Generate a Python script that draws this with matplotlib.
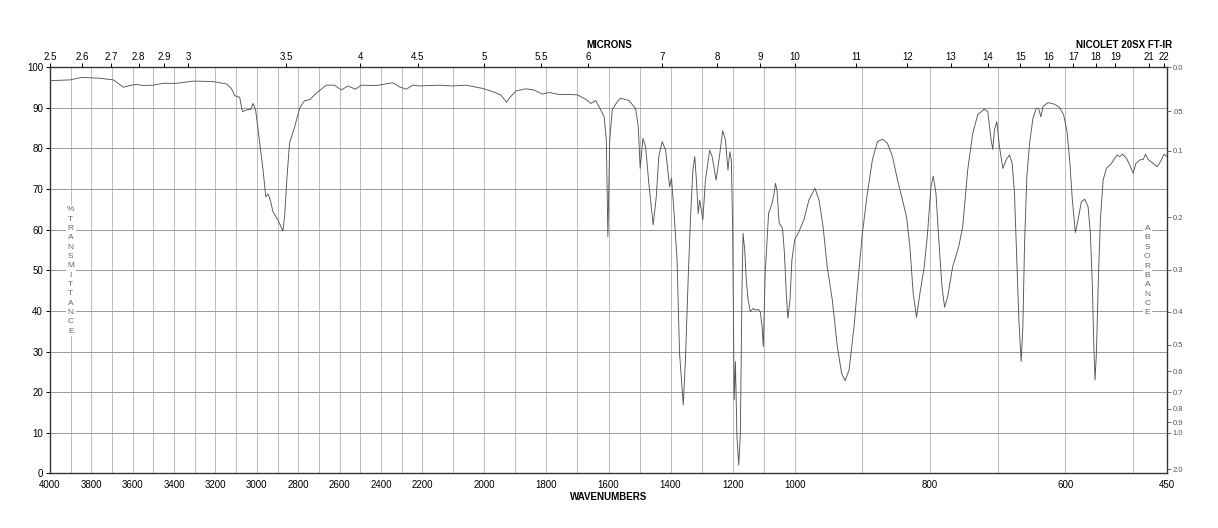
import numpy as np
import matplotlib
matplotlib.use("Agg")
import matplotlib.pyplot as plt

plt.rcParams['font.family'] = ['Liberation Sans', 'DejaVu Sans']

# ---- data (wavenumber cm-1, % transmittance) ----
wavenumbers = [
    4000, 3903, 3847, 3759, 3694, 3670, 3646, 3614, 3582, 3549, 3501, 3453, 3389, 3308, 3212,
    3147, 3123, 3107, 3083, 3070, 3043, 3030, 3019, 3006, 2990, 2970, 2957, 2946, 2935, 2922,
    2898, 2874, 2866, 2854, 2842, 2817, 2793, 2769, 2745, 2713, 2665, 2624, 2592, 2560, 2523,
    2496, 2423, 2343, 2311, 2278, 2246, 2214,
    2145, 2102, 2059, 2006, 1973, 1947, 1929, 1915, 1898, 1866, 1840, 1813, 1791, 1759, 1722,
    1700, 1673, 1657, 1641, 1625, 1614, 1607, 1602, 1596, 1588, 1572,
    1561, 1534, 1513, 1504, 1498, 1489, 1480.5, 1470, 1456, 1446, 1438, 1427, 1416, 1403, 1397,
    1389.4, 1379, 1371, 1359, 1352, 1343, 1336, 1328, 1322, 1316, 1311, 1306, 1296, 1287.5, 1274,
    1266, 1253, 1242.5, 1232, 1223, 1215, 1209, 1204, 1200, 1195, 1191, 1186, 1180.3, 1175, 1170,
    1166.4, 1161, 1156, 1150, 1143, 1134, 1127, 1118, 1111, 1105, 1101, 1095, 1089, 1084, 1073,
    1066, 1062, 1057, 1050, 1039, 1033, 1027, 1022, 1015, 1009, 1000, 993.8, 986.4, 979, 970,
    964, 958, 952, 944.4, 937, 930.6, 925.6, 919.7, 912.3, 905.9, 900, 892.6, 885.2, 877.7, 870.3,
    863, 855.5, 848, 840.7, 834.8, 829.8, 824.9, 820, 815, 808.6, 803.7, 798.7, 795.3, 791.3, 787.4,
    782.4, 778.5, 774, 766.6, 757.7, 751.8, 744.4, 737, 729.6, 719.7, 714.8,
    709.8, 707.4, 704.9, 701.4, 697.5, 692.5, 687.6, 682.7, 678.7, 675.3, 671.8, 668.8, 665.4,
    662.9, 660.4, 657, 653, 648.1, 643.2, 639.7, 636.3, 633.3, 625.9, 616, 608.6, 602.7, 597.7,
    593.8, 589.8, 585.4, 581.4, 576.5, 571.6, 566.6, 563.2, 560.2, 558.2, 556.3, 554.3, 551.3,
    548.4, 544.4, 539.5, 532.1, 527.1, 523.7, 519.7, 515.8, 509.9, 504.9, 500, 496, 490.1, 485.2,
    481.7, 477.8, 470.3, 464.4, 459.5, 454.5, 450,
]
transmittance = [
    96.7, 96.9, 97.5, 97.3, 96.9, 96.05, 95.1, 95.5, 95.8, 95.5, 95.6, 96.05, 96.05, 96.6, 96.5,
    95.9, 94.8, 93.0, 92.6, 89.1, 89.6, 89.6, 91.1, 89.5, 82.9, 74.7, 68.1, 68.8, 67.3, 64.4,
    62.4, 59.7, 63.2, 73.1, 81.3, 85.4, 89.9, 91.8, 92.0, 93.6, 95.6, 95.6, 94.4, 95.4, 94.6,
    95.6, 95.5, 96.2, 95.2, 94.6, 95.6, 95.4,
    95.6, 95.4, 95.6, 94.8, 94.0, 93.2, 91.4, 92.8, 94.2, 94.7, 94.4, 93.4, 93.8, 93.3, 93.3,
    93.2, 92.1, 91.1, 91.8, 89.5, 87.8, 82.1, 58.3, 82.1, 89.5, 91.5,
    92.4, 91.8, 89.9, 85.4, 75.1, 82.5, 80.5, 71.4, 61.2, 68.1, 78.0, 81.7, 79.6, 70.6, 72.7,
    64.9, 52.5, 29.6, 16.8, 27.9, 48.4, 62.4, 74.7, 78.0, 71.4, 64.0, 67.3, 62.4, 72.2, 79.6,
    78.0, 72.2, 78.0, 84.4, 82.1, 74.7, 79.2, 77.2, 60.7, 18.1, 27.5, 9.0, 2.0, 9.8, 44.3,
    59.1, 55.0, 47.6, 42.7, 39.8, 40.6, 40.2, 40.4, 39.8, 36.1, 31.2, 49.3, 57.5, 64.0, 66.5,
    69.0, 71.4, 69.8, 61.6, 60.3, 54.2, 44.3, 38.2, 42.7, 52.5, 57.5, 59.5, 62.4, 67.3, 70.2,
    67.3, 60.7, 50.9, 42.7, 31.2, 24.6, 22.8, 25.4, 36.1, 48.4, 59.1, 69.0, 77.2, 81.7, 82.3,
    81.3, 78.0, 72.2, 67.3, 63.2, 55.8, 44.3, 38.4, 44.3, 50.9, 59.1, 70.6, 73.2, 69.0, 58.3,
    46.0, 40.9, 43.5, 50.9, 55.8, 60.7, 74.7, 83.7, 88.3, 89.7, 89.1,
    82.1, 79.8, 84.6, 86.6, 80.5, 75.1, 77.2, 78.4, 76.3, 69.0, 52.5, 37.8, 27.5,
    36.1, 56.6, 73.1, 81.3, 87.4, 89.9, 89.9, 87.8, 90.3, 91.3, 90.9, 90.1, 88.3, 84.2,
    77.2, 67.3, 59.3, 62.4, 66.9, 67.5, 65.7, 59.1, 46.0, 32.0, 23.0, 29.6, 48.4,
    62.4, 72.2, 75.1, 76.3, 77.6, 78.4, 78.0, 78.6, 77.6, 75.9, 73.9, 76.3, 77.2, 77.3,
    78.6, 77.3, 76.3, 75.5, 76.8, 78.6, 78.0,
]

bottom_ticks = [4000, 3800, 3600, 3400, 3200, 3000, 2800, 2600, 2400, 2200, 2000, 1800,
                1600, 1400, 1200, 1000, 800, 600, 450]
micron_ticks = [2.5, 2.6, 2.7, 2.8, 2.9, 3, 3.5, 4, 4.5, 5, 5.5, 6, 7, 8, 9, 10, 11, 12,
                13, 14, 15, 16, 17, 18, 19, 21, 22]
micron_labels = ['2.5', '2.6', '2.7', '2.8', '2.9', '3', '3.5', '4', '4.5', '5', '5.5', '6',
                 '7', '8', '9', '10', '11', '12', '13', '14', '15', '16', '17', '18', '19',
                 '21', '22']
absorbance_ticks = [0.0, 0.05, 0.1, 0.2, 0.3, 0.4, 0.5, 0.6, 0.7, 0.8, 0.9, 1.0, 2.0]
absorbance_labels = ['0.0', '.05', '0.1', '0.2', '0.3', '0.4', '0.5', '0.6', '0.7', '0.8',
                     '0.9', '1.0', '2.0']

# piecewise-linear wavenumber scale (three equal-width panels)
XP = [450, 1000, 2200, 4000]
FP = [0.0, 1.0, 2.0, 3.0]


def fwd(w):
    return np.interp(np.asarray(w, dtype=float), XP, FP)


def inv(u):
    return np.interp(np.asarray(u, dtype=float), FP, XP)


fig = plt.figure(figsize=(12.18, 5.28), dpi=100)
ax = fig.add_axes([50 / 1218, (528 - 473.3) / 528, (1167 - 50) / 1218, (473.3 - 67.3) / 528])
ax.set_xscale('function', functions=(fwd, inv))
ax.set_xlim(4000, 450)
ax.set_ylim(0, 100)

ax.plot(wavenumbers, transmittance, color='#555555', lw=0.65, zorder=3)

ax.set_xticks(bottom_ticks)
ax.set_xticklabels([str(t) for t in bottom_ticks])
ax.set_xticks(list(range(3900, 450, -100)), minor=True)
ax.set_yticks(range(0, 101, 10))
ax.tick_params(axis='x', which='both', length=0, pad=5, labelsize=7)
ax.tick_params(axis='y', length=3, width=0.7, pad=2, labelsize=7, direction='out')
ax.grid(axis='x', which='both', color='#bbbbbb', lw=0.7)
ax.grid(axis='y', which='major', color='#999999', lw=0.7)
ax.set_axisbelow(True)
for s in ax.spines.values():
    s.set_color('#333333')
    s.set_linewidth(1.0)

# top micron axis
axt = ax.twiny()
axt.set_xscale('function', functions=(fwd, inv))
axt.set_xlim(4000, 450)
axt.set_xticks([10000.0 / m for m in micron_ticks])
axt.set_xticklabels(micron_labels)
axt.set_xticks([], minor=True)
axt.tick_params(axis='x', length=3, width=0.7, pad=1, labelsize=7, direction='out')

# right absorbance axis
axr = ax.twinx()
axr.set_ylim(0, 100)
axr.set_yticks([100 * 10 ** (-a) for a in absorbance_ticks])
axr.set_yticklabels(absorbance_labels)
axr.tick_params(axis='y', length=3, width=0.6, pad=1, labelsize=5.5, colors='#555555',
                direction='out')
for s in axr.spines.values():
    s.set_visible(False)
for s in axt.spines.values():
    s.set_visible(False)

# titles
fig.text(609 / 1218, 1 - 44.5 / 528, 'MICRONS', ha='center', va='center',
         fontsize=7, fontweight='bold')
fig.text(1172 / 1218, 1 - 44.5 / 528, 'NICOLET 20SX FT-IR', ha='right', va='center',
         fontsize=7, fontweight='bold')
fig.text(609 / 1218, 1 - 496.5 / 528, 'WAVENUMBERS', ha='center', va='center',
         fontsize=7, fontweight='bold')

# stacked side labels
fig.text(70.7 / 1218, 1 - 270.5 / 528, '\n'.join('%TRANSMITTANCE'), ha='center', va='center',
         fontsize=6, color='#666666', linespacing=1.47,
         bbox=dict(facecolor='white', edgecolor='none', pad=1.0), zorder=5)
fig.text(1147.3 / 1218, 1 - 270.7 / 528, '\n'.join('ABSORBANCE'), ha='center', va='center',
         fontsize=6, color='#666666', linespacing=1.47,
         bbox=dict(facecolor='white', edgecolor='none', pad=1.0), zorder=5)

fig.savefig('out.png', dpi=100)
